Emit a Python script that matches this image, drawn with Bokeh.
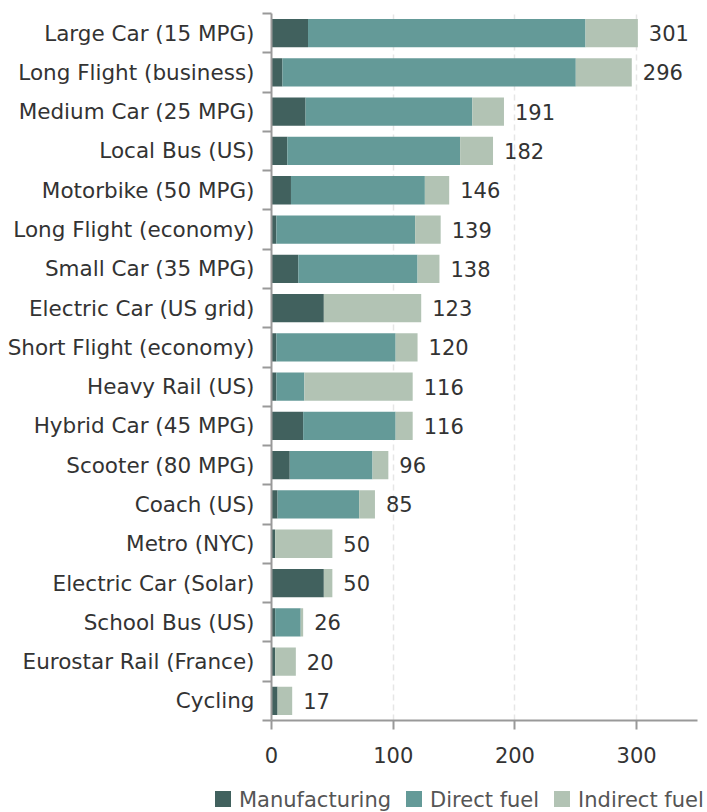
from bokeh.plotting import figure
from bokeh.models import ColumnDataSource, FixedTicker, LabelSet, Div
from bokeh.layouts import column
from bokeh.core.properties import value
from bokeh.embed import file_html
from bokeh.resources import INLINE

categories = ["Large Car (15 MPG)", "Long Flight (business)", "Medium Car (25 MPG)",
              "Local Bus (US)", "Motorbike (50 MPG)", "Long Flight (economy)",
              "Small Car (35 MPG)", "Electric Car (US grid)", "Short Flight (economy)",
              "Heavy Rail (US)", "Hybrid Car (45 MPG)", "Scooter (80 MPG)",
              "Coach (US)", "Metro (NYC)", "Electric Car (Solar)", "School Bus (US)",
              "Eurostar Rail (France)", "Cycling"]
manufacturing = [30, 9, 28, 13, 16, 4, 22, 43, 4, 4, 26, 15, 5, 3, 43, 3, 3, 5]
direct_fuel = [228, 241, 137, 142, 110, 114, 98, 0, 98, 23, 76, 68, 67, 0, 0, 21, 0, 0]
indirect_fuel = [43, 46, 26, 27, 20, 21, 18, 80, 18, 89, 14, 13, 13, 47, 7, 2, 17, 12]
totals = [301, 296, 191, 182, 146, 139, 138, 123, 120, 116, 116, 96, 85, 50, 50, 26, 20, 17]
x_ticks = [0, 100, 200, 300]
series_names = ["Manufacturing", "Direct fuel", "Indirect fuel"]

FONT = "DejaVu Sans"
C_MAN = "#41615e"
C_DIR = "#649a98"
C_IND = "#b2c3b4"
TXT = "#333333"

n = len(categories)
ypos = [n - 1 - i for i in range(n)]
m_end = manufacturing
d_end = [m + d for m, d in zip(manufacturing, direct_fuel)]
i_end = [m + d + ind for m, d, ind in zip(manufacturing, direct_fuel, indirect_fuel)]

src = ColumnDataSource(dict(y=ypos, zero=[0] * n, m_end=m_end, d_end=d_end, i_end=i_end,
                            total=totals, label=[str(t) for t in totals]))

p = figure(frame_width=426, frame_height=707, x_range=(0, 350), y_range=(-0.5, n - 0.5),
           output_backend="svg", toolbar_location=None,
           min_border_left=271, min_border_right=10, min_border_top=13, min_border_bottom=52)
p.outline_line_color = None

p.hbar(y="y", left="zero", right="m_end", height=0.72, source=src,
       fill_color=C_MAN, line_color=None)
p.hbar(y="y", left="m_end", right="d_end", height=0.72, source=src,
       fill_color=C_DIR, line_color=None)
p.hbar(y="y", left="d_end", right="i_end", height=0.72, source=src,
       fill_color=C_IND, line_color=None)

labels = LabelSet(x="total", y="y", text="label", source=src, x_offset=11,
                  text_baseline="middle", text_align="left", text_font=value(FONT),
                  text_font_size="21px", text_color=TXT)
p.add_layout(labels)

# y axis
p.yaxis.ticker = FixedTicker(ticks=ypos, minor_ticks=[k + 0.5 for k in range(-1, n)])
p.yaxis.major_label_overrides = {y: c for y, c in zip(ypos, categories)}
p.yaxis.major_tick_out = 0
p.yaxis.major_tick_in = 0
p.yaxis.minor_tick_out = 9
p.yaxis.minor_tick_in = 0
p.yaxis.minor_tick_line_color = "#999999"
p.yaxis.minor_tick_line_width = 2
p.yaxis.axis_line_color = "#999999"
p.yaxis.axis_line_width = 2
p.yaxis.major_label_standoff = 8
p.yaxis.major_label_text_font = FONT
p.yaxis.major_label_text_font_size = "21.5px"
p.yaxis.major_label_text_color = TXT

# x axis
p.xaxis.ticker = FixedTicker(ticks=x_ticks)
p.xaxis.minor_tick_line_color = None
p.xaxis.major_tick_in = 0
p.xaxis.major_tick_out = 9
p.xaxis.major_tick_line_color = "#999999"
p.xaxis.major_tick_line_width = 2
p.xaxis.axis_line_color = "#999999"
p.xaxis.axis_line_width = 2
p.xaxis.major_label_standoff = 17
p.xaxis.major_label_text_font = FONT
p.xaxis.major_label_text_font_size = "21px"
p.xaxis.major_label_text_color = TXT

p.ygrid.grid_line_color = None
p.xgrid.ticker = FixedTicker(ticks=x_ticks)
p.xgrid.grid_line_color = "#e6e6e6"
p.xgrid.grid_line_dash = "6 4"
p.xgrid.grid_line_width = 1.5

# legend row as real HTML text under the chart
item_html = "".join(
    '<span style="display:inline-block;margin-right:15px">'
    f'<span style="display:inline-block;width:16px;height:16px;background:{c};'
    'vertical-align:middle;margin-right:8px;position:relative;top:-2px"></span>'
    f'{name}</span>'
    for name, c in zip(series_names, [C_MAN, C_DIR, C_IND]))
legend_html = (f'<div style="font-family:\'{FONT}\';font-size:21px;color:#555555;'
               'white-space:nowrap;line-height:24px;padding-left:215px;padding-top:16px">'
               f'{item_html}</div>')
legend_div = Div(text=legend_html, width=707, height=40, margin=(0, 0, 0, 0))

layout = column(p, legend_div, spacing=0)
open("out.html", "w").write(file_html(layout, INLINE))
